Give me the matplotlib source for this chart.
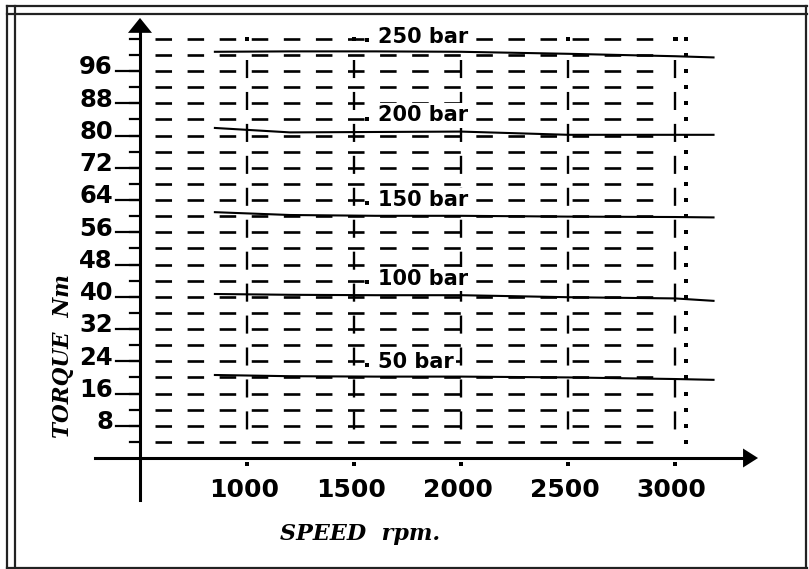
import numpy as np
import matplotlib
matplotlib.use('Agg')
import matplotlib.pyplot as plt
from matplotlib.patches import Polygon
from matplotlib.lines import Line2D

plt.rcParams['lines.scale_dashes'] = False

# speed / torque scales
speed_ticks = [1000, 1500, 2000, 2500, 3000]
torque_ticks = [8, 16, 24, 32, 40, 48, 56, 64, 72, 80, 88, 96]
grid_rows = [4, 8, 12, 16, 20, 24, 28, 32, 36, 40, 44, 48, 52,
             56, 60, 64, 68, 72, 76, 80, 84, 88, 92, 96, 100, 104]

# torque curves at constant pressure
pressures = ['50 bar', '100 bar', '150 bar', '200 bar', '250 bar']
curve_speed = [850, 1200, 1600, 2000, 2500, 3000, 3180]
torque_50 = [20.6, 20.3, 20.2, 20.2, 20.0, 19.6, 19.4]
torque_100 = [40.7, 40.5, 40.4, 40.4, 39.9, 39.6, 39.0]
torque_150 = [61.0, 60.3, 60.1, 60.1, 59.9, 59.8, 59.7]
torque_200 = [81.9, 80.8, 80.9, 81.0, 80.2, 80.2, 80.2]
torque_250 = [100.8, 100.9, 100.9, 100.8, 100.3, 99.7, 99.4]
curves = [torque_50, torque_100, torque_150, torque_200, torque_250]
label_torque = [23.8, 44.4, 64.0, 85.0, 104.5]

W, H = 809, 569
fig = plt.figure(figsize=(W / 100, H / 100), dpi=100)
ax = fig.add_axes([0, 0, 1, 1])
ax.set_xlim(-154.2, 3626.2)
ax.set_ylim(-27.54, 113.65)
ax.axis('off')

# px -> data helpers for the 0.214 px/rpm, 4.03 px/Nm scale
PX_RPM = 0.214
PX_NM = 4.03


def dx(px):
    return px / PX_RPM


def dy(px):
    return px / PX_NM


# double frame round the sheet
def fline(x0, y0, x1, y1, lw=1.6):
    fig.add_artist(Line2D([x0 / W, x1 / W], [1 - y0 / H, 1 - y1 / H],
                          color='#222222', lw=lw))


fline(7, 6, 807, 6)
fline(7, 14, 807, 14)
fline(7, 6, 7, 568)
fline(15, 6, 15, 568)
fline(806, 6, 806, 568)
fline(7, 567.5, 807, 567.5)

# dashed grid rows
x_start, x_end = 570, 2906
for t in grid_rows:
    ax.plot([x_start, x_end], [t, t], color='black', lw=1.9,
            linestyle=(0, (11.9, 11.2)), solid_capstyle='butt')

# dashed verticals at the speed ticks
for s in speed_ticks:
    ax.plot([s, s], [98.8, 4.5], color='black', lw=1.7,
            linestyle=(0, (13.0, 10.0)))

# dotted column past the last speed
ax.plot([3050] * len(grid_rows), grid_rows, 's', color='black', ms=2.2, mew=0)
ax.plot(speed_ticks[:2] + speed_ticks[3:] + [3003], [104] * 5, 's',
        color='black', ms=2.2, mew=0)

# y axis ticks
for t in grid_rows:
    ax.plot([500 - dx(10), 500], [t, t], color='black', lw=1.6)
for t in torque_ticks:
    ax.plot([500 - dx(24), 500], [t, t], color='black', lw=1.6)
    ax.text(500 - dx(27), t - 0.8, str(t), ha='right', va='baseline',
            fontsize=17.5, fontweight='bold', family='DejaVu Sans')

# x axis ticks
ax.plot(speed_ticks, [-1.5] * len(speed_ticks), 's', color='black', ms=2.4, mew=0)
for s in speed_ticks:
    ax.text(s - 15, -8.0, str(s), ha='center', va='center',
            fontsize=18, fontweight='bold', family='DejaVu Sans')

# axes with arrow heads
ax.plot([500, 500], [-10.4, 106], color='black', lw=2.2)
ax.add_patch(Polygon([[500 - dx(12), 105.5], [500 + dx(12), 105.5], [500, 109.2]],
                     closed=True, color='black', lw=0))
ax.plot([290, 3320], [0, 0], color='black', lw=2.2)
ax.add_patch(Polygon([[3318, dy(9.5)], [3318, -dy(9.5)], [3388, 0]],
                     closed=True, color='black', lw=0))

# constant pressure curves with their labels
for name, tq, ly in zip(pressures, curves, label_torque):
    ax.plot(curve_speed, tq, color='black', lw=1.5)
    ax.text(1612, ly, name, ha='left', va='center', fontsize=15,
            fontweight='bold', family='DejaVu Sans',
            bbox=dict(facecolor='white', edgecolor='none', pad=1.5))
    ax.plot([1560], [ly - 0.8], 's', color='black', ms=2.2, mew=0)

ax.text(dx(63 - 140) + 500, dy(458 - 356), 'TORQUE  Nm', rotation=90,
        ha='center', va='center', fontsize=15.5, fontweight='bold',
        style='italic', family='DejaVu Serif')
ax.text(dx(360 - 140) + 500, -dy(534 - 458), 'SPEED  rpm.', ha='center',
        va='center', fontsize=16, fontweight='bold', style='italic',
        family='DejaVu Serif')

fig.savefig('out.png', dpi=100)
